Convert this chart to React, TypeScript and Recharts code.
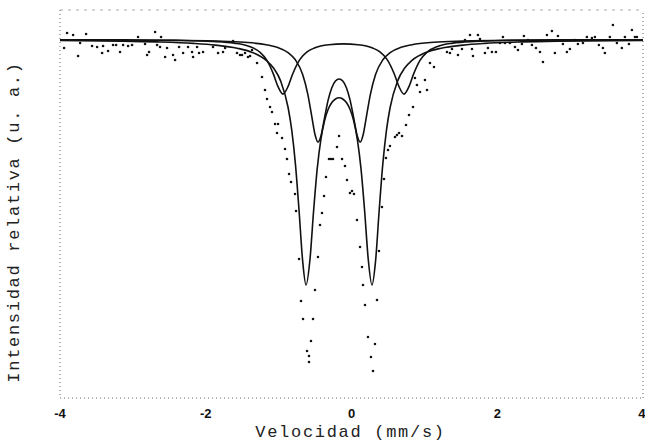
import React from 'react';
import { ComposedChart, Line, Scatter, XAxis, YAxis, ReferenceLine, Label } from 'recharts';

// eje de velocidad (mm/s)
const velTicks = [-4, -2, 0, 2, 4];

// puntos experimentales: velocidad (mm/s) e intensidad relativa (%)
const expVel = [
  -3.944, -3.903, -3.82, -3.752, -3.724, -3.642, -3.56, -3.491, -3.422, -3.409,
  -3.34, -3.272, -3.23, -3.176, -3.134, -3.066, -3.011, -2.929, -2.833, -2.805,
  -2.778, -2.695, -2.668, -2.627, -2.613, -2.558, -2.531, -2.449, -2.421, -2.366,
  -2.311, -2.243, -2.188, -2.174, -2.119, -2.092, -2.037, -1.9, -1.831, -1.763,
  -1.735, -1.625, -1.571, -1.53, -1.502, -1.461, -1.42, -1.392, -1.365, -1.296,
  -1.228, -1.187, -1.159, -1.118, -1.091, -1.049, -1.008, -1.022, -0.953, -0.912,
  -0.885, -0.857, -0.83, -0.775, -0.761, -0.72, -0.693, -0.665, -0.61, -0.583,
  -0.583, -0.556, -0.528, -0.501, -0.46, -0.432, -0.405, -0.377, -0.35, -0.309,
  -0.281, -0.254, -0.199, -0.171, -0.13, -0.089, -0.062, -0.021, 0.007, 0.034,
  0.075, 0.117, 0.144, 0.158, 0.185, 0.226, 0.267, 0.295, 0.322, 0.35,
  0.377, 0.418, 0.446, 0.473, 0.501, 0.528, 0.597, 0.624, 0.652, 0.693,
  0.748, 0.789, 0.844, 0.871, 0.898, 0.94, 1.008, 1.036, 1.077, 1.132,
  1.31, 1.351, 1.379, 1.461, 1.516, 1.557, 1.626, 1.653, 1.667, 1.735,
  1.763, 1.831, 1.872, 1.927, 1.982, 2.037, 2.078, 2.106, 2.174, 2.243,
  2.284, 2.339, 2.366, 2.421, 2.476, 2.531, 2.586, 2.627, 2.682, 2.75,
  2.791, 2.833, 2.901, 2.956, 2.997, 3.066, 3.107, 3.176, 3.23, 3.299,
  3.34, 3.395, 3.45, 3.477, 3.545, 3.587, 3.642, 3.71, 3.752, 3.807,
  3.848, 3.889, 3.916,
];
const expInt = [
  99.15, 100.65, 100.45, 98.35, 99.65, 100.55, 99.35, 99.25, 98.65, 99.35,
  98.85, 99.45, 99.45, 98.75, 99.45, 99.35, 99.45, 100.25, 99.55, 98.45,
  98.75, 100.75, 99.45, 99.25, 100.25, 98.25, 99.15, 98.45, 97.95, 99.25,
  98.65, 99.25, 98.75, 98.25, 99.25, 98.65, 98.75, 99.25, 98.65, 98.75,
  99.15, 99.85, 98.65, 98.45, 98.45, 98.65, 98.25, 98.35, 98.95, 97.65,
  96.25, 94.95, 94.05, 93.25, 92.75, 91.55, 91.55, 90.65, 90.15, 89.05,
  88.05, 86.55, 85.75, 84.55, 82.85, 78.05, 73.85, 72.05, 68.85, 68.35,
  67.75, 69.85, 72.05, 74.95, 78.25, 81.45, 82.65, 84.35, 86.25, 88.05,
  88.05, 88.05, 89.25, 90.35, 88.05, 87.35, 85.95, 84.65, 84.85, 84.55,
  81.95, 79.25, 77.25, 75.45, 73.45, 70.25, 68.25, 66.85, 69.55, 73.95,
  78.85, 83.25, 86.05, 88.15, 88.95, 89.35, 90.25, 90.45, 90.65, 90.35,
  91.45, 92.45, 93.25, 96.15, 95.45, 94.75, 95.95, 94.95, 97.65, 97.25,
  98.75, 98.65, 99.05, 98.45, 99.05, 99.95, 100.45, 99.05, 98.35, 100.45,
  100.05, 98.65, 99.15, 98.75, 98.75, 99.65, 100.25, 99.65, 99.65, 99.25,
  98.95, 99.55, 100.35, 99.95, 99.45, 99.15, 98.75, 97.75, 100.45, 100.85,
  98.65, 100.35, 99.55, 98.75, 99.05, 99.95, 99.55, 99.65, 100.25, 100.15,
  100.25, 99.45, 99.15, 98.65, 100.25, 101.45, 99.65, 99.15, 100.25, 99.55,
  100.95, 100.25, 100.25,
];

// ajuste total
const totVel = [
  -4.0, -3.17, -2.67, -2.17, -1.87, -1.57, -1.37, -1.17, -1.07, -0.97,
  -0.87, -0.82, -0.77, -0.72, -0.67, -0.624, -0.57, -0.52, -0.47, -0.42,
  -0.37, -0.32, -0.27, -0.22, -0.17, -0.12, -0.07, -0.02, 0.03, 0.08,
  0.13, 0.18, 0.23, 0.281, 0.33, 0.38, 0.43, 0.48, 0.53, 0.63,
  0.73, 0.83, 1.03, 1.23, 1.53, 1.83, 2.33, 2.83, 4.0,
];
const totInt = [
  99.9, 99.84, 99.76, 99.61, 99.44, 99.13, 98.73, 97.91, 97.15, 95.81,
  93.2, 90.94, 87.59, 82.93, 77.83, 75.45, 78.0, 82.87, 87.11, 90.02,
  91.87, 93.02, 93.7, 94.05, 94.17, 94.05, 93.7, 93.02, 91.87, 90.02,
  87.11, 82.87, 78.0, 75.45, 77.83, 82.93, 87.59, 90.94, 93.2, 95.81,
  97.15, 97.91, 98.73, 99.13, 99.44, 99.61, 99.76, 99.84, 99.91,
];

// doblete A (exterior)
const dobAVel = [
  -4.0, -3.11, -2.41, -1.91, -1.61, -1.41, -1.26, -1.16, -1.07, -1.01,
  -0.94, -0.87, -0.81, -0.71, -0.61, -0.51, -0.31, -0.11, 0.09, 0.29,
  0.39, 0.49, 0.59, 0.65, 0.72, 0.79, 0.85, 0.94, 1.04, 1.19,
  1.39, 1.69, 2.19, 2.89, 4.0,
];
const dobAInt = [
  99.98, 99.96, 99.91, 99.81, 99.64, 99.33, 98.75, 97.91, 96.51, 95.31,
  94.54, 95.31, 96.5, 97.99, 98.76, 99.15, 99.48, 99.56, 99.48, 99.15,
  98.76, 97.99, 96.5, 95.31, 94.54, 95.31, 96.51, 97.91, 98.75, 99.33,
  99.64, 99.81, 99.91, 99.96, 99.98,
];

// doblete B (interior)
const dobBVel = [
  -4.0, -3.17, -2.47, -1.87, -1.47, -1.17, -1.02, -0.87, -0.77, -0.67,
  -0.6, -0.55, -0.5, -0.46, -0.42, -0.37, -0.32, -0.27, -0.22, -0.17,
  -0.12, -0.07, -0.02, 0.03, 0.08, 0.12, 0.16, 0.21, 0.26, 0.33,
  0.43, 0.53, 0.68, 0.83, 1.13, 1.53, 2.13, 2.83, 4.0,
];
const dobBInt = [
  99.97, 99.95, 99.92, 99.84, 99.72, 99.48, 99.22, 98.69, 97.97, 96.5,
  94.54, 92.52, 90.48, 89.75, 90.33, 92.17, 93.96, 95.18, 95.84, 96.05,
  95.84, 95.18, 93.96, 92.17, 90.33, 89.75, 90.48, 92.52, 94.54, 96.5,
  97.97, 98.69, 99.22, 99.48, 99.72, 99.84, 99.92, 99.95, 99.97,
];

const zip = (vs: number[], ys: number[]) => vs.map((v, i) => ({ v, y: ys[i] }));

const expData = zip(expVel, expInt);
const totData = zip(totVel, totInt);
const dobAData = zip(dobAVel, dobAInt);
const dobBData = zip(dobBVel, dobBInt);

const monoFont = '"Liberation Mono", "DejaVu Sans Mono", monospace';
const frame = { stroke: '#666', strokeWidth: 1, strokeDasharray: '1 3' };

const Punto = (props: any) => <circle cx={props.cx} cy={props.cy} r={1.3} fill="#111" />;

export default function App() {
  return (
    <div style={{ position: 'absolute', left: 0, top: 0, width: 645, height: 444, background: '#fff' }}>
      <ComposedChart width={645} height={444} margin={{ top: 10, right: 2, bottom: 0, left: 0 }}>
        <XAxis
          dataKey="v"
          type="number"
          domain={[-4, 4]}
          ticks={velTicks}
          allowDataOverflow
          height={46}
          axisLine={frame}
          tickLine={false}
          tickMargin={5}
          tick={{ fill: '#111', fontSize: 13, fontWeight: 700, fontFamily: '"Liberation Sans", Arial, sans-serif' }}
        >
          <Label
            content={(p: any) => (
              <text
                x={p.viewBox.x + p.viewBox.width / 2 - 1}
                y={437}
                textAnchor="middle"
                fill="#222"
                fontSize={17}
                letterSpacing={1.7}
                fontFamily={monoFont}
              >
                Velocidad (mm/s)
              </text>
            )}
          />
        </XAxis>
        <YAxis
          type="number"
          domain={[64.15, 102.95]}
          allowDataOverflow
          width={60}
          axisLine={frame}
          tickLine={false}
          tick={false}
        >
          <Label
            content={(p: any) => {
              const cx = 14;
              const cy = p.viewBox.y + p.viewBox.height / 2 + 18;
              return (
                <text
                  x={cx}
                  y={cy}
                  transform={`rotate(-90 ${cx} ${cy})`}
                  textAnchor="middle"
                  dominantBaseline="central"
                  fill="#222"
                  fontSize={17}
                  letterSpacing={1.7}
                  fontFamily={monoFont}
                >
                  Intensidad relativa (u. a.)
                </text>
              );
            }}
          />
        </YAxis>
        <ReferenceLine y={102.95} stroke="#aaa" strokeDasharray="3 5" />
        <ReferenceLine x={4} {...frame} />
        <Scatter data={expData} dataKey="y" shape={Punto} isAnimationActive={false} />
        <Line data={dobAData} dataKey="y" type="monotone" stroke="#111" strokeWidth={1.6} dot={false} isAnimationActive={false} />
        <Line data={dobBData} dataKey="y" type="monotone" stroke="#111" strokeWidth={1.6} dot={false} isAnimationActive={false} />
        <Line data={totData} dataKey="y" type="monotone" stroke="#111" strokeWidth={1.6} dot={false} isAnimationActive={false} />
      </ComposedChart>
    </div>
  );
}
